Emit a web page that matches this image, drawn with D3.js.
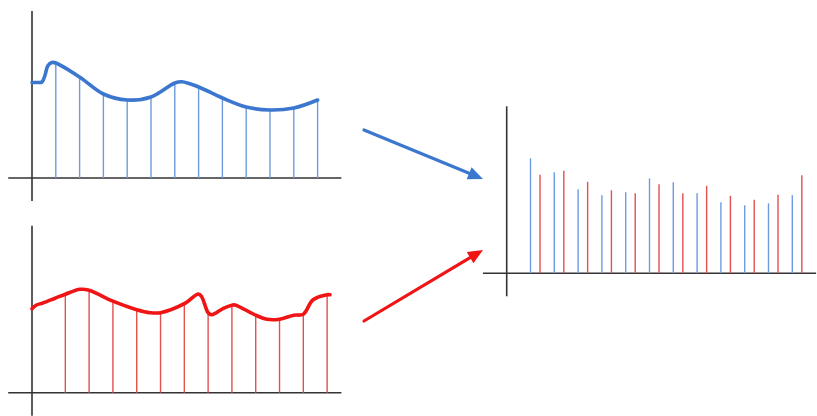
<!DOCTYPE html>
<html lang="en">
<head>
    <meta charset="UTF-8">
    <title>Interleaved Sampling</title>
    <script src="https://d3js.org/d3.v7.min.js"></script>
    <style>
        body { margin: 0; background: #fff; }
        .axis { stroke: #333; stroke-width: 1.6px; }
        .curve { fill: none; stroke-width: 3.6px; stroke-linecap: round; stroke-linejoin: round; }
        .stem { stroke-width: 1.4px; }
    </style>
</head>
<body>
    <svg width="817" height="416"></svg>
    <script>
        // sample times: blue at whole steps, red offset by 0.4 step
        const blueTimes = [1, 2, 3, 4, 5, 6, 7, 8, 9, 10, 11, 12];
        const blueValues = [11.5, 10.1, 8.4, 7.8, 8.1, 9.5, 9.1, 8.0, 7.1, 6.8, 7.0, 7.8];
        const redTimes = [1.4, 2.4, 3.4, 4.4, 5.4, 6.4, 7.4, 8.4, 9.4, 10.4, 11.4, 12.4];
        const redValues = [9.85, 10.25, 9.15, 8.3, 8.0, 8.9, 8.0, 8.75, 7.75, 7.35, 7.85, 9.8];

        // extra points of the continuous signals between samples
        const blueKnotTimes = [0, 0.25, 0.42, 0.55, 0.66, 0.83, 6.3];
        const blueKnotValues = [9.55, 9.55, 9.6, 10.3, 11.2, 11.55, 9.63];
        const redKnotTimes = [0, 0.17, 0.46, 0.97, 2.02, 4.96, 6.99, 7.13, 7.55, 8.04, 8.53, 9.87, 11.0, 11.8, 12.52];
        const redKnotValues = [8.4, 8.75, 8.97, 9.45, 10.34, 8.0, 9.87, 9.6, 7.8, 8.44, 8.77, 7.34, 7.75, 9.27, 9.8];

        const blueCurve = "#3c77cf", blueStem = "#6d9be0";
        const redCurve = "#f01414", redStem = "#e2504f";

        const svg = d3.select("svg");

        function signal(times, values, kTimes, kValues) {
            const pts = times.map((t, i) => [t, values[i]])
                .concat(kTimes.map((t, i) => [t, kValues[i]]));
            return pts.sort((a, b) => a[0] - b[0]);
        }

        function panel(x0, y0) {
            // x0, y0 = pixel position of the origin
            const x = d3.scaleLinear().domain([-1, 13]).range([x0 - 23.8, x0 + 13 * 23.8]);
            const y = d3.scaleLinear().domain([0, 10]).range([y0, y0 - 100]);
            const g = svg.append("g");
            g.append("line").attr("class", "axis")
                .attr("x1", x(-1)).attr("x2", x(13)).attr("y1", y(0)).attr("y2", y(0));
            g.append("line").attr("class", "axis")
                .attr("x1", x(0)).attr("x2", x(0)).attr("y1", y(16.7)).attr("y2", y(-2.3));
            return { g, x, y };
        }

        function stems(p, times, values, color) {
            p.g.selectAll(null)
                .data(times.map((t, i) => [t, values[i]]))
                .enter().append("line")
                .attr("class", "stem")
                .attr("stroke", color)
                .attr("x1", d => p.x(d[0])).attr("x2", d => p.x(d[0]))
                .attr("y1", p.y(0)).attr("y2", d => p.y(d[1]));
        }

        function curve(p, pts, color) {
            const line = d3.line()
                .x(d => p.x(d[0]))
                .y(d => p.y(d[1]))
                .curve(d3.curveCatmullRom.alpha(0.5));
            p.g.append("path").attr("class", "curve")
                .attr("stroke", color)
                .attr("d", line(pts));
        }

        // top: blue signal
        const upper = panel(32, 178);
        stems(upper, blueTimes, blueValues, blueStem);
        curve(upper, signal(blueTimes, blueValues, blueKnotTimes, blueKnotValues), blueCurve);

        // bottom: red signal
        const lower = panel(32, 392.7);
        stems(lower, redTimes, redValues, redStem);
        curve(lower, signal(redTimes, redValues, redKnotTimes, redKnotValues), redCurve);

        // right: interleaved samples
        const merged = panel(506.7, 273.3);
        stems(merged, blueTimes, blueValues, blueStem);
        stems(merged, redTimes, redValues, redStem);

        // arrows
        function arrow(xa, ya, xb, yb, color) {
            const ang = Math.atan2(yb - ya, xb - xa);
            const len = 15, half = 6.5;
            const bx = xb - len * Math.cos(ang), by = yb - len * Math.sin(ang);
            svg.append("line")
                .attr("x1", xa).attr("y1", ya).attr("x2", bx).attr("y2", by)
                .attr("stroke", color).attr("stroke-width", 3.2).attr("stroke-linecap", "round");
            const px = -Math.sin(ang) * half, py = Math.cos(ang) * half;
            svg.append("path")
                .attr("fill", color)
                .attr("d", `M${xb},${yb}L${bx + px},${by + py}L${bx - px},${by - py}Z`);
        }
        arrow(364, 130, 483, 179, blueCurve);
        arrow(364, 321, 483, 250, redCurve);
    </script>
</body>
</html>
